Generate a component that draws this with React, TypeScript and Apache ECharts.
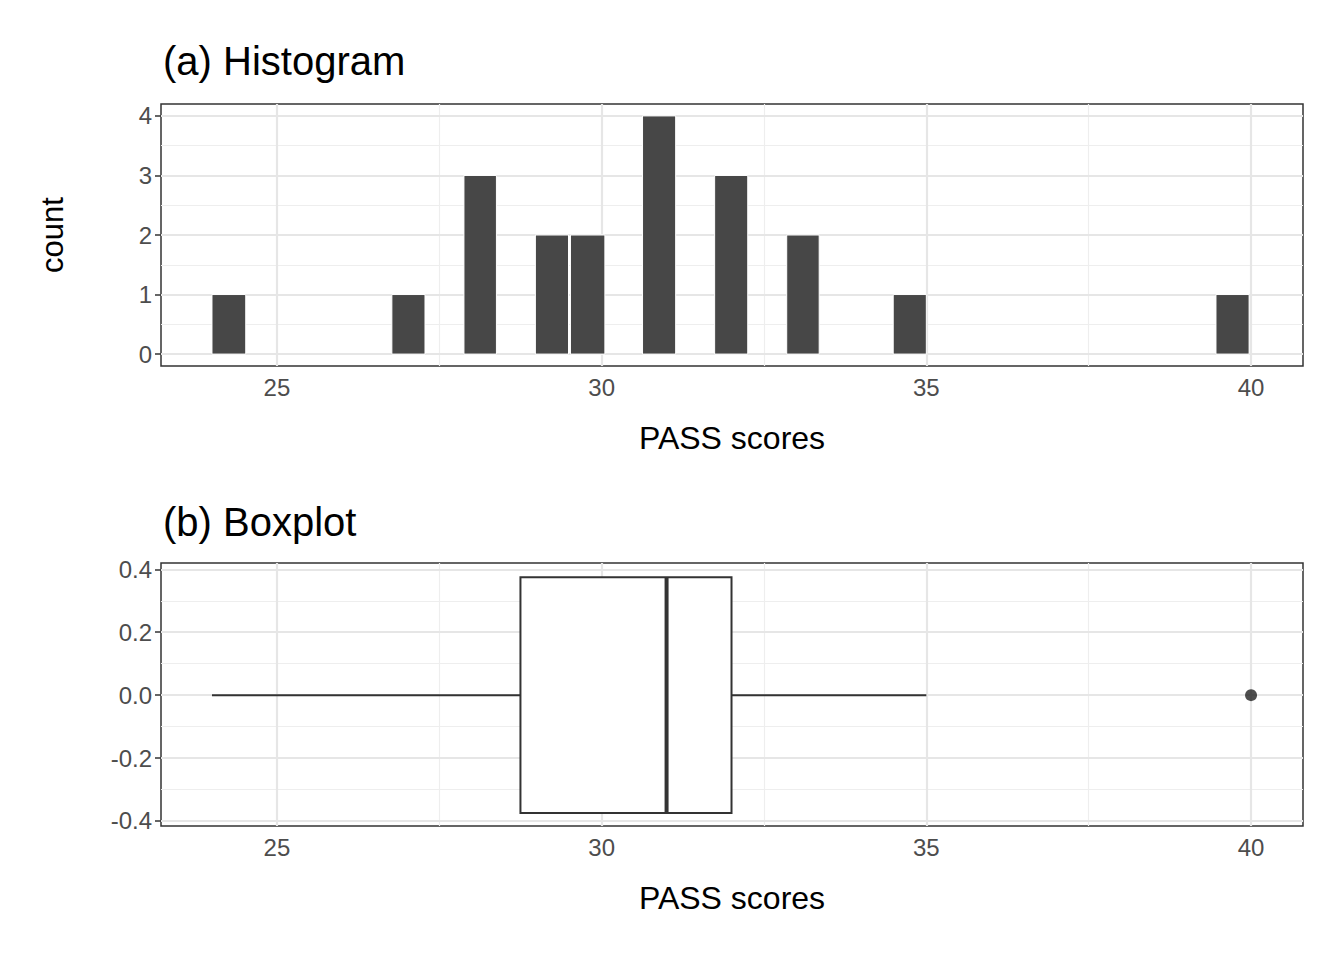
import React, { useRef, useEffect } from 'react';
import * as echarts from 'echarts';

// histogram bins
const binStart = [24.0, 26.77, 27.88, 28.98, 29.52, 30.63, 31.74, 32.85, 34.49, 39.46];
const binEnd = [24.52, 27.28, 28.38, 29.49, 30.05, 31.14, 32.25, 33.35, 35.0, 39.97];
const counts = [1, 1, 3, 2, 2, 4, 3, 2, 1, 1];

// boxplot: min, q1, median, q3, max whisker
const boxStats = [24, 28.75, 31, 32, 35];
const outliers = [40];

const xTicks = [25, 30, 35, 40];
const xMinor = [27.5, 32.5, 37.5];
const histTicks = [0, 1, 2, 3, 4];
const histMinor = [0.5, 1.5, 2.5, 3.5];
const boxTicks = [-0.4, -0.2, 0, 0.2, 0.4];
const boxMinor = [-0.3, -0.1, 0.1, 0.3];

const FONT = 'Liberation Sans';
const major = { color: '#e6e6e6', width: 2.2, type: 'solid' };
const minor = { color: '#eeeeee', width: 1.2, type: 'solid' };

function gridLines(xi: number, yMajor: number[], yMinor: number[]) {
  const lines: any[] = [];
  xMinor.forEach((v) => lines.push({ xAxis: v, lineStyle: minor }));
  yMinor.forEach((v) => lines.push({ yAxis: v, lineStyle: minor }));
  xTicks.forEach((v) => lines.push({ xAxis: v, lineStyle: major }));
  yMajor.forEach((v) => lines.push({ yAxis: v, lineStyle: major }));
  return {
    type: 'scatter', xAxisIndex: xi, yAxisIndex: xi, data: [], z: 1, silent: true,
    markLine: { silent: true, symbol: ['none', 'none'], label: { show: false }, animation: false, data: lines },
  };
}

function xAxis(idx: number) {
  return {
    type: 'value', gridIndex: idx, min: 23.215, max: 40.8,
    name: 'PASS scores', nameLocation: 'middle', nameGap: 56,
    nameTextStyle: { fontSize: 32, color: '#000', fontFamily: FONT },
    splitLine: { show: false },
    axisLine: { show: false },
    axisTick: { show: true, length: 6, customValues: xTicks, lineStyle: { color: '#333', width: 1.5 } },
    axisLabel: { customValues: xTicks, fontSize: 24, color: '#4d4d4d', fontFamily: FONT, margin: 9 },
  };
}

function yAxis(idx: number, min: number, max: number, ticks: number[], fmt: (v: number) => string, name = '') {
  return {
    type: 'value', gridIndex: idx, min, max, name,
    nameLocation: 'middle', nameGap: 93,
    nameTextStyle: { fontSize: 31, color: '#000', fontFamily: FONT },
    splitLine: { show: false },
    axisLine: { show: false },
    axisTick: { show: true, length: 6, customValues: ticks, lineStyle: { color: '#333', width: 1.5 } },
    axisLabel: { customValues: ticks, formatter: fmt, fontSize: 24, color: '#4d4d4d', fontFamily: FONT, margin: 9 },
  };
}

const App: React.FC = () => {
  const ref = useRef<HTMLDivElement>(null);

  useEffect(() => {
    if (!ref.current) return;
    const chart = echarts.init(ref.current, undefined, { renderer: 'svg' });
    const histData = binStart.map((s, i) => [s, binEnd[i], counts[i]]);
    chart.setOption({
      animation: false,
      backgroundColor: '#fff',
      title: [
        { text: '(a) Histogram', left: 158, top: 36, textStyle: { fontSize: 40, fontWeight: 'normal', color: '#000', fontFamily: FONT } },
        { text: '(b) Boxplot', left: 158, top: 497, textStyle: { fontSize: 40, fontWeight: 'normal', color: '#000', fontFamily: FONT } },
      ],
      grid: [
        { left: 161, top: 104, width: 1142, height: 262, show: true, borderColor: '#333', borderWidth: 1.5, backgroundColor: 'transparent' },
        { left: 161, top: 563, width: 1142, height: 263, show: true, borderColor: '#333', borderWidth: 1.5, backgroundColor: 'transparent' },
      ],
      xAxis: [xAxis(0), xAxis(1)],
      yAxis: [
        yAxis(0, -0.2, 4.2, histTicks, (v: number) => String(v), 'count'),
        yAxis(1, -0.416, 0.42, boxTicks, (v: number) => v.toFixed(1)),
      ],
      series: [
        gridLines(0, histTicks, histMinor),
        gridLines(1, boxTicks, boxMinor),
        {
          type: 'custom', xAxisIndex: 0, yAxisIndex: 0, z: 5, data: histData,
          renderItem: (params: any, api: any) => {
            const a = api.coord([api.value(0), api.value(2)]);
            const b = api.coord([api.value(1), 0]);
            return { type: 'rect', shape: { x: a[0], y: a[1], width: b[0] - a[0], height: b[1] - a[1] }, style: { fill: '#474747', stroke: '#fff', lineWidth: 1 } };
          },
        },
        {
          type: 'custom', xAxisIndex: 1, yAxisIndex: 1, z: 5, data: [boxStats],
          renderItem: (params: any, api: any) => {
            const [lo, q1, med, q3, hi] = [0, 1, 2, 3, 4].map((i) => api.value(i));
            const p = (x: number, y: number) => api.coord([x, y]);
            const st = { stroke: '#333', lineWidth: 2, fill: 'none' };
            const tl = p(q1, 0.375), br = p(q3, -0.375);
            return {
              type: 'group',
              children: [
                { type: 'line', shape: { x1: p(lo, 0)[0], y1: p(lo, 0)[1], x2: tl[0], y2: p(lo, 0)[1] }, style: st },
                { type: 'line', shape: { x1: br[0], y1: p(hi, 0)[1], x2: p(hi, 0)[0], y2: p(hi, 0)[1] }, style: st },
                { type: 'rect', shape: { x: tl[0], y: tl[1], width: br[0] - tl[0], height: br[1] - tl[1] }, style: { stroke: '#333', lineWidth: 2, fill: '#fff' } },
                { type: 'line', shape: { x1: p(med, 0)[0], y1: tl[1], x2: p(med, 0)[0], y2: br[1] }, style: { stroke: '#333', lineWidth: 4 } },
              ],
            };
          },
        },
        {
          type: 'scatter', xAxisIndex: 1, yAxisIndex: 1, z: 6, symbolSize: 12,
          itemStyle: { color: '#222' }, data: outliers.map((v) => [v, 0]),
        },
      ],
    });
    return () => chart.dispose();
  }, []);

  return <div ref={ref} style={{ position: 'fixed', left: 0, top: 0, width: 1344, height: 960 }} />;
};

export default App;
